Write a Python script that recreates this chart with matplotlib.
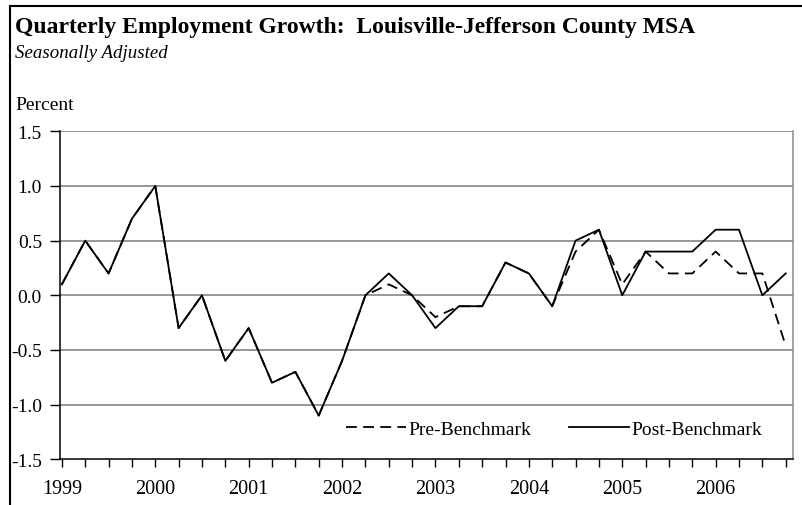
import matplotlib
matplotlib.use("Agg")
import matplotlib.pyplot as plt
from matplotlib.lines import Line2D

years = ["1999", "2000", "2001", "2002", "2003", "2004", "2005", "2006"]
pre_benchmark = [0.1, 0.5, 0.2, 0.7, 1.0, -0.3, 0.0, -0.6,
                 -0.3, -0.8, -0.7, -1.1, -0.6, 0.0, 0.1, 0.0,
                 -0.2, -0.1, -0.1, 0.3, 0.2, -0.1, 0.4, 0.6,
                 0.1, 0.4, 0.2, 0.2, 0.4, 0.2, 0.2, -0.46]
post_benchmark = [0.1, 0.5, 0.2, 0.7, 1.0, -0.3, 0.0, -0.6,
                  -0.3, -0.8, -0.7, -1.1, -0.6, 0.0, 0.2, 0.0,
                  -0.3, -0.1, -0.1, 0.3, 0.2, -0.1, 0.5, 0.6,
                  0.0, 0.4, 0.4, 0.4, 0.6, 0.6, 0.0, 0.2]
y_ticks = [-1.5, -1.0, -0.5, 0.0, 0.5, 1.0, 1.5]

plt.rcParams['font.family'] = ['Liberation Serif', 'DejaVu Serif']

W, H = 803, 506
fig = plt.figure(figsize=(W / 100, H / 100), dpi=100)

def fx(px):
    return px / W

def fy(py):
    return 1 - py / H

# outer frame (extends beyond image on right and bottom)
fig.add_artist(Line2D([fx(10), 1.02], [fy(7), fy(7)], color='black', lw=1.5,
                      transform=fig.transFigure))
fig.add_artist(Line2D([fx(10), fx(10)], [fy(7), -0.02], color='black', lw=1.5,
                      transform=fig.transFigure))

ax = fig.add_axes([fx(60), fy(460.3), fx(792.7) - fx(60), fy(132.3) - fy(460.3)])

x = list(range(len(post_benchmark)))
ax.plot(x, pre_benchmark, color='black', lw=1.3, linestyle=(0, (6, 3.5)),
        label='Pre-Benchmark')
ax.plot(x, post_benchmark, color='black', lw=1.3, label='Post-Benchmark')

ax.set_xlim(-0.08, 31.3)
ax.set_ylim(-1.5, 1.5)
ax.set_yticks(y_ticks)
ax.set_yticklabels([f"{v:.1f}" for v in y_ticks], fontsize=14)
for v in y_ticks[1:]:
    ax.axhline(v, color='#7a7a7a', lw=1.1, zorder=0)

ax.set_xticks(x[::4])
ax.set_xticklabels(years, fontsize=14.5)
ax.set_xticks(x, minor=True)
ax.tick_params(axis='x', which='both', direction='out', length=6, width=1, pad=8)
ax.tick_params(axis='y', direction='out', length=7, width=1, pad=6)

for s in ['left', 'bottom']:
    ax.spines[s].set_color('black')
    ax.spines[s].set_linewidth(1.1)
ax.spines['top'].set_visible(False)
ax.spines['right'].set_color('#8a8a8a')
ax.spines['right'].set_linewidth(1.1)

leg = ax.legend(loc='center', bbox_to_anchor=(fx(554), fy(430)),
                bbox_transform=fig.transFigure, ncol=2, frameon=False,
                fontsize=14, handlelength=3.1, handletextpad=0.15,
                columnspacing=1.9)

fig.text(fx(15), fy(33), "Quarterly Employment Growth:  Louisville-Jefferson County MSA",
         fontsize=17, fontweight='bold', ha='left', va='baseline')
fig.text(fx(15), fy(58), "Seasonally Adjusted", fontsize=13.6, style='italic',
         ha='left', va='baseline')
fig.text(fx(15), fy(110), "Percent", fontsize=14, ha='left', va='baseline')

fig.savefig("out.png", dpi=100)
